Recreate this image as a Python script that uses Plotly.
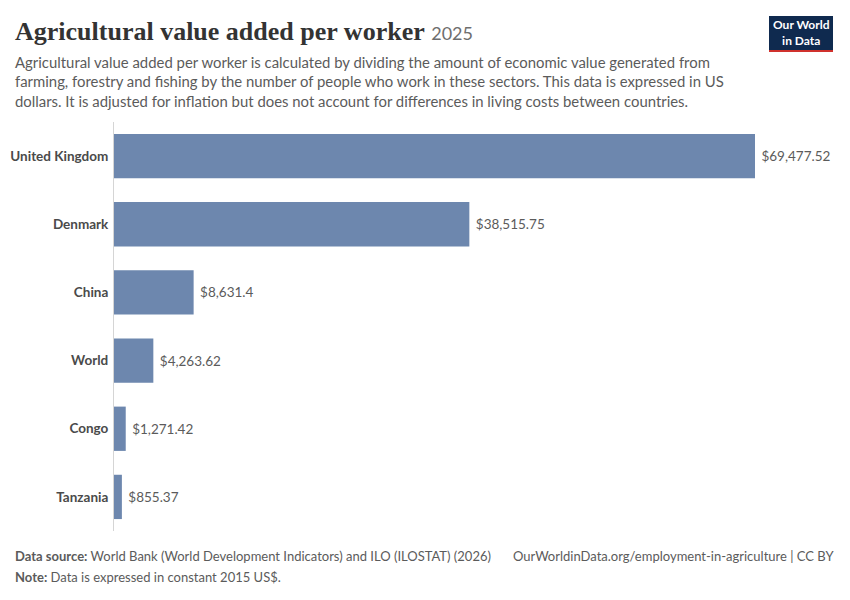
import plotly.graph_objects as go

countries = ["United Kingdom", "Denmark", "China", "World", "Congo", "Tanzania"]
values = [69477.52, 38515.75, 8631.4, 4263.62, 1271.42, 855.37]
value_labels = ["$69,477.52", "$38,515.75", "$8,631.4", "$4,263.62", "$1,271.42", "$855.37"]

W, H = 850, 600
# the page adds an 8px body margin, so positions are shifted back by it
OFF = 8


def px(x):
    return (x - OFF) / W


def py(y):
    return 1 - (y - OFF) / H


x0, x1 = 114, 755
y_top, y_bot = 122, 531

fig = go.Figure()
fig.add_trace(
    go.Bar(
        x=values,
        y=countries,
        orientation="h",
        marker=dict(color="#6d87ae", line=dict(width=0)),
        text=[" " + t for t in value_labels],
        textposition="outside",
        textfont=dict(family="Lato", size=13.5, color="#5b5b5b"),
        cliponaxis=False,
        hoverinfo="skip",
    )
)

fig.update_layout(
    width=W,
    height=H,
    margin=dict(l=0, r=0, t=0, b=0),
    paper_bgcolor="white",
    plot_bgcolor="white",
    showlegend=False,
    bargap=0.35,
    xaxis=dict(
        domain=[px(x0), px(x1)],
        range=[0, values[0]],
        showgrid=False,
        zeroline=False,
        showticklabels=False,
        fixedrange=True,
    ),
    yaxis=dict(
        domain=[py(y_bot), py(y_top)],
        categoryorder="array",
        categoryarray=countries[::-1],
        showgrid=False,
        showline=True,
        linecolor="#d5d5d5",
        linewidth=1,
        ticks="",
        ticklabelstandoff=2,
        tickfont=dict(family="Lato", size=13.5, color="#4a4a4a", weight="bold"),
        fixedrange=True,
    ),
)

# title and subtitle
fig.add_annotation(
    x=px(13), y=py(15), xref="paper", yref="paper", xanchor="left", yanchor="top",
    text="<b>Agricultural value added per worker</b> <span style='font-family:Lato;font-size:18px;color:#6e6e6e'>2025</span>",
    showarrow=False, font=dict(family="Liberation Serif", size=26, color="#333333"),
)
fig.add_annotation(
    x=px(13), y=py(51), xref="paper", yref="paper", xanchor="left", yanchor="top", align="left",
    text=("Agricultural value added per worker is calculated by dividing the amount of economic value generated from<br>"
          "farming, forestry and fishing by the number of people who work in these sectors. This data is expressed in US<br>"
          "dollars. It is adjusted for inflation but does not account for differences in living costs between countries."),
    showarrow=False, font=dict(family="Lato", size=14.9, color="#5b5b5b"),
)

# logo
fig.add_shape(type="rect", xref="paper", yref="paper",
              x0=px(769), x1=px(833), y0=py(50), y1=py(16),
              fillcolor="#0f2a4f", line=dict(width=0))
fig.add_shape(type="rect", xref="paper", yref="paper",
              x0=px(769), x1=px(833), y0=py(52), y1=py(50),
              fillcolor="#d0312d", line=dict(width=0))
fig.add_annotation(
    x=px(801), y=py(33), xref="paper", yref="paper", xanchor="center", yanchor="middle",
    text="<b>Our World<br>in Data</b>", showarrow=False,
    font=dict(family="Lato", size=12, color="white"),
)

# footer
fig.add_annotation(
    x=px(13), y=py(556), xref="paper", yref="paper", xanchor="left", yanchor="middle",
    text="<b>Data source:</b> World Bank (World Development Indicators) and ILO (ILOSTAT) (2026)",
    showarrow=False, font=dict(family="Lato", size=13, color="#5b5b5b"),
)
fig.add_annotation(
    x=px(836), y=py(556), xref="paper", yref="paper", xanchor="right", yanchor="middle",
    text="OurWorldinData.org/employment-in-agriculture | CC BY",
    showarrow=False, font=dict(family="Lato", size=13, color="#5b5b5b"),
)
fig.add_annotation(
    x=px(13), y=py(577), xref="paper", yref="paper", xanchor="left", yanchor="middle",
    text="<b>Note:</b> Data is expressed in constant 2015 US$.",
    showarrow=False, font=dict(family="Lato", size=13, color="#5b5b5b"),
)

fig.write_html("out.html")
